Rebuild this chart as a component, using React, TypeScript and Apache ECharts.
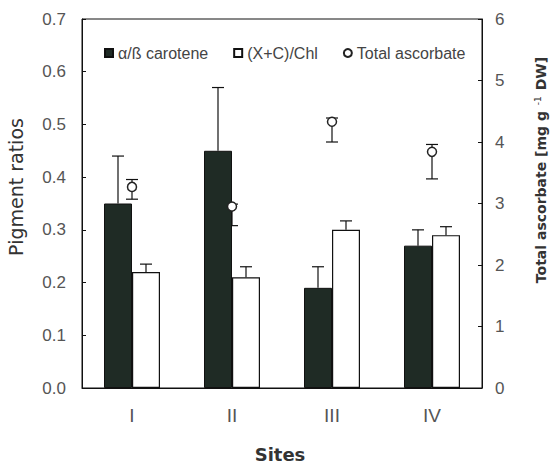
import React, { useEffect, useRef } from "react";
import * as echarts from "echarts";

const sites = ["I", "II", "III", "IV"];
const caroteneRatio = [0.35, 0.45, 0.19, 0.27];
const caroteneHigh = [0.44, 0.57, 0.23, 0.3];
const chlRatio = [0.22, 0.21, 0.3, 0.29];
const chlHigh = [0.235, 0.23, 0.317, 0.306];
const ascorbate = [3.27, 2.95, 4.33, 3.84];
const ascorbateLow = [3.07, 2.64, 4.0, 3.4];
const ascorbateHigh = [3.39, 2.99, 4.39, 3.96];
const leftTicks = [0, 0.1, 0.2, 0.3, 0.4, 0.5, 0.6, 0.7];
const rightTicks = [0, 1, 2, 3, 4, 5, 6];

const SANS = "'Liberation Sans', Arial, sans-serif";
const WIDE = "'DejaVu Sans', sans-serif";
const DARK = "#1f2b25";

export default function App() {
  const ref = useRef<HTMLDivElement>(null);
  useEffect(() => {
    if (!ref.current) return;
    const chart = echarts.init(ref.current, null, { renderer: "svg" });

    const errBar = (offset: number, cap: number) => (params: any, api: any) => {
      const i = api.value(0);
      const lo = api.coord([i, api.value(1)]);
      const hi = api.coord([i, api.value(2)]);
      const x = lo[0] + offset;
      const st = { stroke: "#111", lineWidth: 1.2 };
      return {
        type: "group",
        children: [
          { type: "line", shape: { x1: x, y1: lo[1], x2: x, y2: hi[1] }, style: st },
          { type: "line", shape: { x1: x - cap, y1: hi[1], x2: x + cap, y2: hi[1] }, style: st },
        ],
      };
    };
    const errBoth = (params: any, api: any) => {
      const i = api.value(0);
      const lo = api.coord([i, api.value(1)]);
      const hi = api.coord([i, api.value(2)]);
      const x = lo[0];
      const st = { stroke: "#111", lineWidth: 1.2 };
      return {
        type: "group",
        children: [
          { type: "line", shape: { x1: x, y1: lo[1], x2: x, y2: hi[1] }, style: st },
          { type: "line", shape: { x1: x - 6, y1: hi[1], x2: x + 6, y2: hi[1] }, style: st },
          { type: "line", shape: { x1: x - 6, y1: lo[1], x2: x + 6, y2: lo[1] }, style: st },
        ],
      };
    };

    chart.setOption({
      animation: false,
      backgroundColor: "#fff",
      grid: { left: 82, right: 68, top: 19, bottom: 77, show: true, borderColor: "#111", borderWidth: 1 },
      legend: {
        left: 99,
        top: 40,
        itemWidth: 8,
        itemHeight: 8,
        itemGap: 25,
        textStyle: { fontSize: 16, color: "#444", fontFamily: SANS },
        data: [
          { name: "α/ß carotene", icon: "rect" },
          { name: "(X+C)/Chl", icon: "rect" },
          { name: "Total ascorbate", icon: "circle" },
        ],
      },
      xAxis: {
        type: "category",
        data: sites,
        axisLine: { lineStyle: { color: "#111" } },
        axisTick: { inside: true, length: 4, lineStyle: { color: "#111" } },
        axisLabel: { fontSize: 19, color: "#555", fontFamily: SANS, margin: 18 },
      },
      yAxis: [
        {
          type: "value",
          min: 0,
          max: 0.7,
          interval: 0.1,
          splitLine: { show: false },
          axisLine: { show: true, lineStyle: { color: "#111" } },
          axisTick: { show: true, inside: true, length: 4, lineStyle: { color: "#111" } },
          axisLabel: {
            fontSize: 17,
            color: "#555",
            fontFamily: SANS,
            margin: 16,
            formatter: (v: number) => v.toFixed(1),
          },
        },
        {
          type: "value",
          min: 0,
          max: 6,
          interval: 1,
          position: "right",
          splitLine: { show: false },
          axisLine: { show: true, lineStyle: { color: "#111" } },
          axisTick: { show: true, inside: true, length: 4, lineStyle: { color: "#111" } },
          axisLabel: { fontSize: 17, color: "#555", fontFamily: SANS, margin: 13 },
        },
      ],
      series: [
        {
          name: "α/ß carotene",
          type: "bar",
          data: caroteneRatio,
          barWidth: 28,
          barGap: "0%",
          z: 3,
          itemStyle: { color: DARK, borderColor: "#111", borderWidth: 1 },
        },
        {
          name: "(X+C)/Chl",
          type: "bar",
          data: chlRatio,
          barWidth: 28,
          z: 3,
          itemStyle: { color: "#fff", borderColor: "#111", borderWidth: 1.2 },
        },
        {
          type: "custom",
          z: 4,
          renderItem: errBar(-14, 6),
          data: caroteneRatio.map((v, i) => [i, v, caroteneHigh[i]]),
          encode: { x: 0, y: [1, 2] },
        },
        {
          type: "custom",
          z: 4,
          renderItem: errBar(14, 6),
          data: chlRatio.map((v, i) => [i, v, chlHigh[i]]),
          encode: { x: 0, y: [1, 2] },
        },
        {
          type: "custom",
          yAxisIndex: 1,
          z: 1,
          renderItem: errBoth,
          data: ascorbate.map((v, i) => [i, ascorbateLow[i], ascorbateHigh[i]]),
          encode: { x: 0, y: [1, 2] },
        },
        {
          name: "Total ascorbate",
          type: "scatter",
          yAxisIndex: 1,
          z: 5,
          symbol: "circle",
          symbolSize: 9,
          data: ascorbate,
          itemStyle: { color: "#fff", borderColor: "#222", borderWidth: 1.5, opacity: 1 },
        },
      ],
      graphic: [
        {
          type: "text",
          x: 16,
          y: 187,
          rotation: Math.PI / 2,
          style: {
            text: "Pigment ratios",
            font: `19px ${WIDE}`,
            fill: "#333",
            textAlign: "center",
            textVerticalAlign: "middle",
          },
        },
        {
          type: "text",
          x: 541,
          y: 170,
          rotation: Math.PI / 2,
          style: {
            text: "{a|Total ascorbate [mg g }{s|-1}{a| DW]}",
            textAlign: "center",
            textVerticalAlign: "middle",
            rich: {
              a: { font: `bold 14px ${WIDE}`, fill: "#333" },
              s: { font: `9px ${WIDE}`, fill: "#333", verticalAlign: "top", padding: [0, 1, 6, 1] },
            },
          },
        },
        {
          type: "text",
          x: 280,
          y: 454,
          style: {
            text: "Sites",
            font: `bold 18px ${WIDE}`,
            fill: "#333",
            textAlign: "center",
            textVerticalAlign: "middle",
          },
        },
      ],
    });
    return () => chart.dispose();
  }, []);
  return <div ref={ref} style={{ position: "fixed", left: 0, top: 0, width: 550, height: 465 }} />;
}
